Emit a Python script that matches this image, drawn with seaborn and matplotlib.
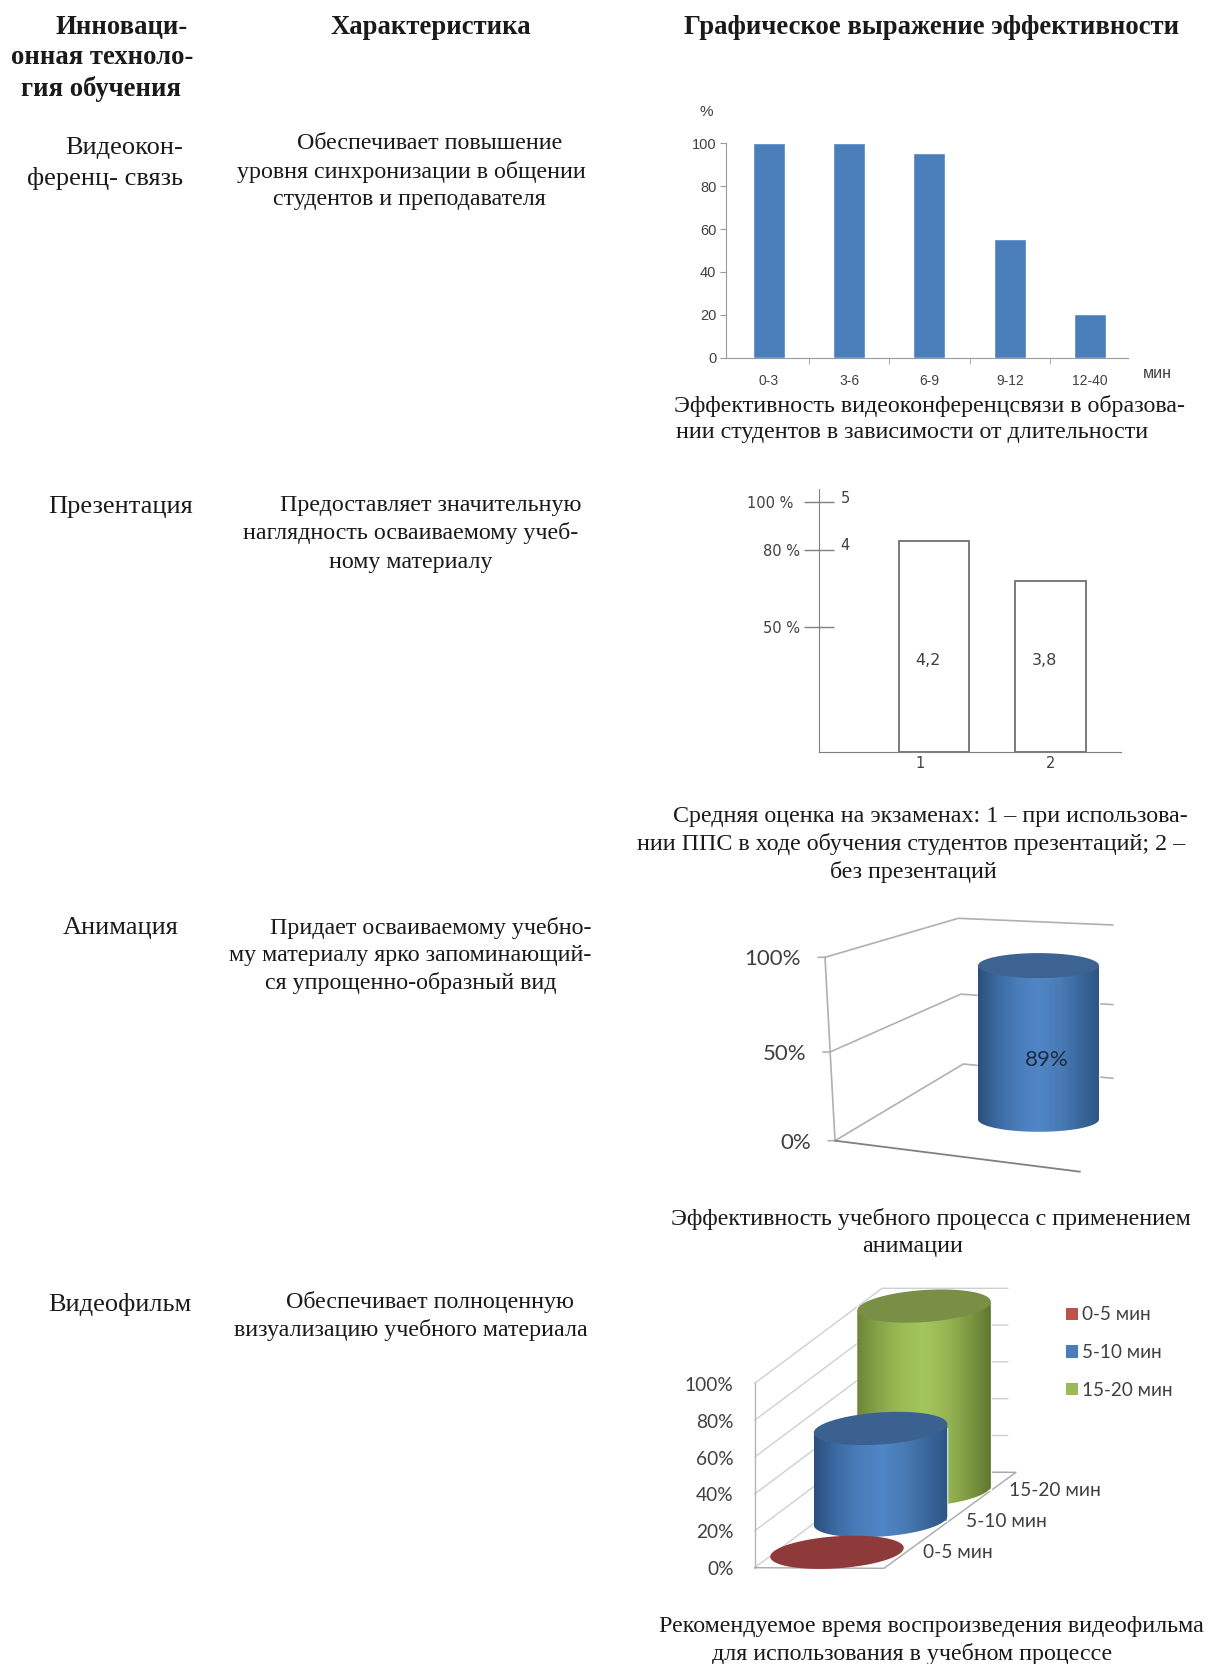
import numpy as np
import matplotlib
matplotlib.use("Agg")
import matplotlib.pyplot as plt
from matplotlib.colors import LinearSegmentedColormap
from matplotlib.patches import Patch, Polygon
from matplotlib.transforms import ScaledTranslation
import seaborn as sns

# данные первого графика (видеоконференцсвязь)
conf_labels = ["0-3", "3-6", "6-9", "9-12", "12-40"]
conf_values = [100, 100, 95.5, 55.5, 20.5]
conf_ticks = [0, 20, 40, 60, 80, 100]

# презентация
pres_labels = ["1", "2"]
pres_heights = [84.6, 68.5]
pres_marks = ["4,2", "3,8"]
pres_ticks = [50, 81, 100]
pres_tick_labels = ["50 %", "80 %", "100 %"]
pres_scale_labels = {100: "5", 81: "4"}

# анимация
anim_labels = ["Анимация"]
anim_values = [89]
anim_ticks = [0, 50, 100]

# видеофильм
film_labels = ["0-5 мин", "5-10 мин", "15-20 мин"]
film_values = [0, 50, 100]
film_ticks = [0, 20, 40, 60, 80, 100]

W, H = 1208, 1664
SERIF = "Liberation Serif"
GRAY = "#404040"

sns.set_style("white")
fig = plt.figure(figsize=(W / 100, H / 100), dpi=100)

# общий слой в пикселях: текст таблицы и стенки объёмных диаграмм
page = fig.add_axes([0, 0, 1, 1], zorder=0)
page.set_xlim(0, W)
page.set_ylim(H, 0)
page.axis("off")


def put(x, y, s, size=17.3, bold=False):
    k = W / 1138
    page.text(x * k, (y + 1.5) * k, s, family=SERIF, fontsize=size, ha="left", va="center",
              color="#1a1a1a", fontweight="bold" if bold else "normal")


def chart_axes(left, top, right, bottom):
    ax = fig.add_axes([left / W, 1 - bottom / H, (right - left) / W, (bottom - top) / H], zorder=1)
    ax.patch.set_visible(False)
    return ax


# шапка
put(52, 24, "Инноваци-", 19.2, True)
put(10, 53, "онная техноло-", 19.2, True)
put(20, 82, "гия обучения", 19.2, True)
put(311, 24, "Характеристика", 19.2, True)
put(644, 24, "Графическое выражение эффективности", 19.2, True)

# строка 1
put(61, 138, "Видеокон-", 19)
put(25, 167, "ференц- связь", 19)
put(280, 134, "Обеспечивает повышение")
put(223, 161, "уровня синхронизации в общении")
put(257, 186, "студентов и преподавателя")
put(635, 381, "Эффективность видеоконференцсвязи в образова-")
put(637, 406, "нии студентов в зависимости от длительности")

# строка 2
put(45, 476, "Презентация", 19)
put(264, 475, "Предоставляет значительную")
put(229, 501, "наглядность осваиваемому учеб-")
put(310, 528, "ному материалу")
put(634, 768, "Средняя оценка на экзаменах: 1 – при использова-")
put(600, 794, "нии ППС в ходе обучения студентов презентаций; 2 –")
put(782, 820, "без презентаций")

# строка 3
put(59, 873, "Анимация", 19)
put(254, 873, "Придает осваиваемому учебно-")
put(216, 899, "му материалу ярко запоминающий-")
put(250, 925, "ся упрощенно-образный вид")
put(632, 1147, "Эффективность учебного процесса с применением")
put(812, 1173, "анимации")

# строка 4
put(45, 1227, "Видеофильм", 19)
put(269, 1225, "Обеспечивает полноценную")
put(220, 1251, "визуализацию учебного материала")
put(621, 1531, "Рекомендуемое время воспроизведения видеофильма")
put(671, 1557, "для использования в учебном процессе")

# --- график 1 ---
narrow = "Liberation Sans"
ax1 = chart_axes(726, 143.3, 1128, 357.7)
sns.barplot(x=conf_labels, y=conf_values, order=conf_labels, color="#4a7ebb", saturation=1,
            width=0.4, ax=ax1)
ax1.set_xlim(-0.53, 4.47)
ax1.set_ylim(0, 100)
ax1.set_yticks(conf_ticks)
ax1.set_xticks(np.arange(0.5, 4.5), minor=True)
ax1.tick_params(axis="y", left=True, length=4, color="#999999", labelsize=10.5, labelcolor=GRAY, pad=3)
ax1.tick_params(axis="x", which="major", length=0, labelsize=10, labelcolor=GRAY, pad=12)
ax1.tick_params(axis="x", which="minor", bottom=True, length=4, color="#999999")
for lab in ax1.get_xticklabels() + ax1.get_yticklabels():
    lab.set_family(narrow)
sns.despine(ax=ax1)
for side in ["left", "bottom"]:
    ax1.spines[side].set_color("#999999")
page.text(706, 111.5, "%", family=narrow, fontsize=11, color=GRAY, ha="center", va="center")
page.text(1157, 374, "мин", family="Liberation Sans", fontsize=11.5, color=GRAY, ha="center", va="center")

# --- график 2 ---
ax2 = chart_axes(819, 489, 1121, 752.3)
sns.barplot(x=pres_labels, y=pres_heights, order=pres_labels, color="white", saturation=1,
            edgecolor="#707070", linewidth=1.3, width=0.607, ax=ax2)
ax2.set_xlim(-0.99, 1.607)
ax2.set_ylim(0, 105.3)
ax2.set_yticks(pres_ticks)
ax2.set_yticklabels(pres_tick_labels)
ax2.set_xticks([-0.119, 1])
ax2.set_xticklabels(pres_labels)
ax2.tick_params(axis="y", left=True, direction="inout", length=21.6, color="#808080", width=1,
                labelsize=10.5, labelcolor=GRAY, pad=3)
ax2.tick_params(axis="x", length=0, labelsize=10.5, labelcolor=GRAY, pad=3)
top_lab = ax2.get_yticklabels()[2]
top_lab.set_transform(top_lab.get_transform() + ScaledTranslation(-6 / 100, 0, fig.dpi_scale_trans))
sns.despine(ax=ax2)
for side in ["left", "bottom"]:
    ax2.spines[side].set_color("#808080")
for i, mark in enumerate(pres_marks):
    ax2.text(i - 0.05, 36.6, mark, fontsize=11.5, color=GRAY, ha="center", va="center")
for pct, lab in pres_scale_labels.items():
    ax2.annotate(lab, (0, pct), xycoords=ax2.get_yaxis_transform(), xytext=(19, 3),
                 textcoords="offset points", fontsize=10.5, color=GRAY, ha="center", va="center")


# --- объёмные цилиндры ---
def ellipse_pts(pos, level, a, b, tilt, sx, sy):
    t = np.linspace(0, 2 * np.pi, 120)
    th = np.radians(tilt)
    dx = a * np.cos(t) * np.cos(th) - b * np.sin(t) * np.sin(th)
    dy = a * np.cos(t) * np.sin(th) + b * np.sin(t) * np.cos(th)
    return np.column_stack([pos + dx / sx, level + dy / sy])


def cylinder(ax, labels, label, value, base, a, b, tilt, sx, sy, shades, top_color, z):
    pos = labels.index(label)
    before = len(ax.patches)
    sns.barplot(x=[label], y=[value], order=labels, color=shades[len(shades) // 2], saturation=1,
                width=2 * a / sx, bottom=base, ax=ax, zorder=z)
    for bar in ax.patches[before:]:
        bar.set_visible(value > 0)
    th = np.radians(tilt)
    ddx, ddy = a * np.cos(th) / sx, a * np.sin(th) / sy
    top = base + value
    if value > 0:
        cmap = LinearSegmentedColormap.from_list("body", shades)
        grad = np.linspace(0, 1, 256)[None, :]
        ext = (pos - a / sx, pos + a / sx, base - 3 * b / sy, top + 3 * b / sy)
        side = Polygon([(pos - ddx, top - ddy), (pos + ddx, top + ddy),
                        (pos + ddx, base + ddy), (pos - ddx, base - ddy)], transform=ax.transData)
        low = Polygon(ellipse_pts(pos, base, a, b, tilt, sx, sy), transform=ax.transData)
        for clip in [side, low]:
            im = ax.imshow(grad, extent=ext, aspect="auto", cmap=cmap, zorder=z + 0.1)
            im.set_clip_path(clip)
    ax.add_patch(Polygon(ellipse_pts(pos, top, a, b, tilt, sx, sy), facecolor=top_color,
                         edgecolor="none", zorder=z + 0.2))


def fit_limits(ax, box, x0, y0, sx, sy):
    left, top, right, bottom = box
    ax.set_xlim((left - x0) / sx, (right - x0) / sx)
    ax.set_ylim((y0 - bottom) / sy, (y0 - top) / sy)
    ax.axis("off")


blue_shades = ["#2b4f7c", "#3b6ba3", "#4a7dba", "#5086c8", "#4a7cb6", "#3a689e", "#2d5685"]
green_shades = ["#6c8638", "#88a548", "#9cbc56", "#a3c75c", "#98b654", "#7e9a42", "#5f7630"]

# --- график 3 ---
wall = "#b0b0b0"
for p in anim_ticks:
    f = p / 100
    bend = 3 * (1 - abs(2 * f - 1))  # стенка чуть прогнута посередине
    fx, fy = 835 - 10 * f, 1140.7 - 183.4 * f + bend
    bx, by = 963.3 - 5 * f, 1064 - 145.7 * f + bend
    ex, ey = 1113, 1078.3 - 153.3 * f + bend
    page.plot([fx - 7, fx, bx, ex], [fy, fy, by, ey], color=wall, lw=1.2, zorder=1)
    page.text(fx - 24, fy + 2, f"{p}%", family="Lato", fontsize=16, color=GRAY,
              ha="right", va="center")
page.plot([835, 825], [1140.7, 957.3], color=wall, lw=1.2)
page.plot([835, 1080], [1140.7, 1171.7], color="#808080", lw=1.3)

box3 = (960, 925, 1120, 1160)
ax3 = chart_axes(box3[0], box3[1], box3[2], box3[3])
cylinder(ax3, anim_labels, anim_labels[0], anim_values[0], 0, 60.5, 12.5, 0, 121, 1.727,
         blue_shades, "#3c6392", 3)
ax3.text(0.07, 34.5, f"{anim_values[0]}%", family="Lato", fontsize=16, color="#1d2c3e",
         ha="center", va="center", zorder=6)
fit_limits(ax3, box3, 1038.5, 1119.3, 121, 1.727)

# --- график 4 ---
grid = "#cfcfcf"
for p in film_ticks:
    f = p / 100
    fy = 1567.7 - 184.4 * f
    by = 1472.3 - 184 * f
    page.plot([754.7, 882, 1008], [fy, by, by], color=grid, lw=1)
    page.text(733.7, fy + 2, f"{p}%", family="Lato", fontsize=13.8, color=GRAY, ha="right", va="center")
page.plot([754.7, 754.7], [1567.7, 1383.3], color="#b5b5b5", lw=1)
page.plot([754.7, 884, 1016, 882], [1567.7, 1568.3, 1472.3, 1472.3], color="#a8a8a8", lw=1)

box4 = (755, 1270, 1040, 1585)
ax4 = chart_axes(box4[0], box4[1], box4[2], box4[3])
# смещение основания цилиндра по глубине, в процентах шкалы
film_depth = [0, 17.2, 33.6]
film_tops = ["#8f3a3a", "#3a6190", "#7a8f46"]
film_shades = [blue_shades, blue_shades, green_shades]
for i in [2, 1, 0]:
    cylinder(ax4, film_labels, film_labels[i], film_values[i], film_depth[i], 66.9, 16, 4, 43.5, 1.843,
             film_shades[i], film_tops[i], 3 + 2 - i)
fit_limits(ax4, box4, 837, 1552.3, 43.5, 1.843)

page.text(1009, 1490, film_labels[2], family="Lato", fontsize=13.8, color=GRAY, va="center")
page.text(966, 1521.7, film_labels[1], family="Lato", fontsize=13.8, color=GRAY, va="center")
page.text(923, 1552.3, film_labels[0], family="Lato", fontsize=13.8, color=GRAY, va="center")

legend_colors = ["#c0504d", "#4a7ebb", "#9bbb59"]
handles = [Patch(facecolor=c, edgecolor="none", label=l) for c, l in zip(legend_colors, film_labels)]
fig.legend(handles=handles, loc="upper left", bbox_to_anchor=(1066 / W, 1 - 1306.5 / H), frameon=False,
           prop={"family": "Lato", "size": 13.6}, labelcolor=GRAY, handlelength=0.65, handleheight=0.65,
           handletextpad=0.2, labelspacing=1.09, borderpad=0, borderaxespad=0)

fig.savefig("out.png", dpi=100)
